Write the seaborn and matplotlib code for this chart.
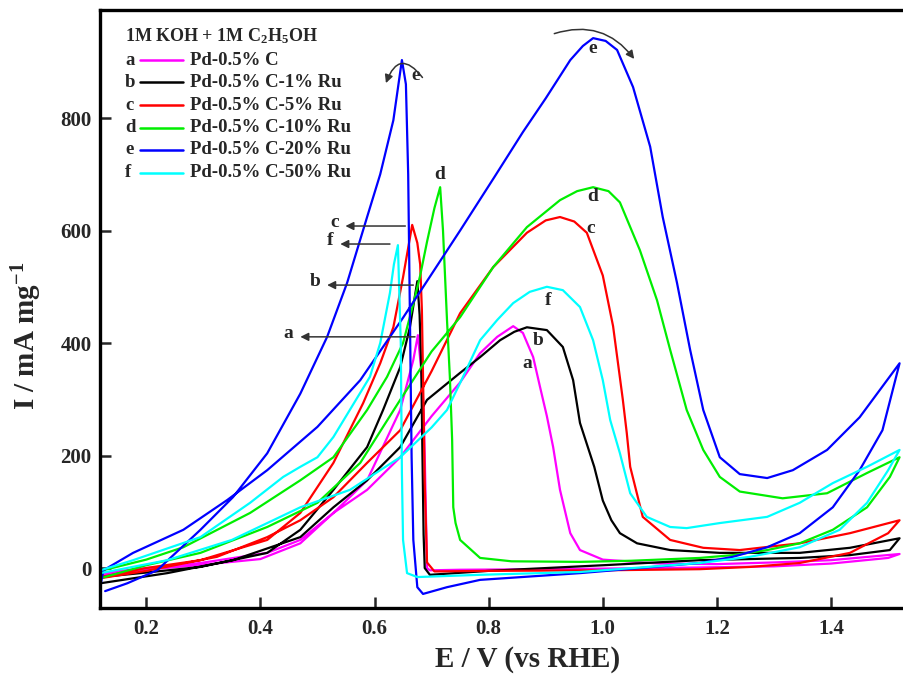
import numpy as np
import pandas as pd
import matplotlib
matplotlib.use("Agg")
import matplotlib.pyplot as plt
import seaborn as sns
from matplotlib.lines import Line2D

# ---------------- data (E / V vs RHE, I / mA mg^-1), one CV loop per catalyst ----------------
a_E = [0.12, 0.2, 0.3, 0.4, 0.47, 0.528, 0.587, 0.645, 0.7, 0.75, 0.785, 0.815, 0.843, 0.86, 0.878,
       0.89, 0.902, 0.913, 0.925, 0.943, 0.96, 1.0, 1.1, 1.2, 1.3, 1.4, 1.52,
       1.5, 1.4, 1.3, 1.1, 0.9, 0.75, 0.697, 0.692, 0.69, 0.688, 0.686, 0.683, 0.676, 0.668, 0.645,
       0.587, 0.528, 0.47, 0.412, 0.295, 0.2, 0.12]
a_I = [-12, -3, 6, 16, 44, 98, 139, 197, 270, 330, 382, 411, 430, 418, 375,
       322, 270, 215, 139, 62, 32, 15, 8, 7, 10, 14, 25,
       18, 8, 3, 0, -2, -3, -4, 0, 100, 200, 281, 340, 414, 370, 281,
       156, 98, 50, 27, 9, 0, -9]

b_E = [0.12, 0.237, 0.352, 0.47, 0.528, 0.587, 0.645, 0.692, 0.75, 0.785, 0.82, 0.845, 0.867, 0.902,
       0.93, 0.948, 0.96, 0.985, 1.0, 1.015, 1.03, 1.06, 1.118, 1.205, 1.345, 1.433, 1.52,
       1.503, 1.433, 1.345, 1.17, 1.0, 0.8, 0.697, 0.688, 0.686, 0.684, 0.682, 0.679, 0.675, 0.662,
       0.645, 0.615, 0.587, 0.528, 0.47, 0.412, 0.295, 0.2, 0.12]
b_I = [-27, -9, 14, 55, 108, 156, 215, 299, 347, 375, 405, 420, 428, 423,
       393, 334, 258, 180, 120, 85, 62, 44, 32, 27, 27, 36, 53,
       32, 23, 18, 14, 5, -5, -12, 0, 60, 200, 350, 450, 510, 428,
       357, 281, 215, 139, 68, 27, 2, -8, -16]

c_E = [0.12, 0.2, 0.324, 0.412, 0.47, 0.528, 0.587, 0.645, 0.7, 0.75, 0.808, 0.867, 0.9, 0.925,
       0.95, 0.972, 1.0, 1.018, 1.035, 1.042, 1.048, 1.07, 1.118, 1.176, 1.24, 1.345, 1.433, 1.52,
       1.5, 1.433, 1.345, 1.258, 1.17, 1.0, 0.8, 0.705, 0.692, 0.688, 0.686, 0.683, 0.68, 0.675,
       0.666, 0.65, 0.633, 0.61, 0.58, 0.528, 0.47, 0.412, 0.295, 0.2, 0.12]
c_I = [-18, -5, 20, 55, 85, 126, 187, 245, 350, 453, 535, 596, 618, 624,
       616, 596, 520, 430, 300, 240, 180, 91, 50, 36, 32, 44, 62, 85,
       62, 27, 9, 2, -2, -4, -5, -6, 10, 150, 281, 459, 540, 578,
       610, 517, 428, 364, 293, 187, 98, 50, 14, 0, -16]

d_E = [0.12, 0.2, 0.295, 0.412, 0.5, 0.575, 0.645, 0.7, 0.75, 0.808, 0.867, 0.925, 0.955, 0.983,
       1.01, 1.03, 1.065, 1.095, 1.118, 1.147, 1.176, 1.205, 1.24, 1.315, 1.393, 1.463, 1.52,
       1.503, 1.463, 1.403, 1.345, 1.288, 1.228, 1.17, 1.05, 0.96, 0.84, 0.785, 0.75, 0.742, 0.738,
       0.736, 0.732, 0.727, 0.72, 0.715, 0.705, 0.692, 0.68, 0.668, 0.65, 0.622, 0.587, 0.528,
       0.47, 0.382, 0.265, 0.2, 0.12]
d_I = [-18, 5, 27, 73, 116, 187, 299, 385, 446, 535, 606, 654, 670, 677,
       670, 650, 565, 476, 388, 281, 210, 162, 136, 124, 133, 169, 197,
       162, 108, 68, 44, 32, 23, 18, 13, 11, 12, 18, 50, 80, 108,
       228, 340, 441, 600, 677, 640, 580, 520, 470, 400, 340, 281, 197,
       156, 98, 37, 15, -5]

e_E = [0.12, 0.125, 0.177, 0.265, 0.342, 0.412, 0.5, 0.575, 0.65, 0.75, 0.81, 0.86, 0.9, 0.943,
       0.965, 0.983, 1.005, 1.025, 1.053, 1.083, 1.105, 1.13, 1.153, 1.176, 1.205, 1.24, 1.288,
       1.333, 1.393, 1.45, 1.52,
       1.49, 1.45, 1.403, 1.345, 1.288, 1.228, 1.17, 0.96, 0.785, 0.727, 0.685, 0.675, 0.668,
       0.665, 0.662, 0.659, 0.655, 0.648, 0.633, 0.61, 0.587, 0.552, 0.517, 0.47, 0.412, 0.352,
       0.295, 0.219, 0.167, 0.128]
e_I = [-30, -4, 27, 68, 121, 174, 251, 334, 445, 600, 695, 775, 835, 903,
       928, 942, 937, 921, 855, 749, 624, 507, 388, 281, 197, 167, 160,
       174, 210, 268, 364,
       245, 174, 108, 62, 37, 20, 9, -9, -21, -34, -46, -34, 50,
       197, 450, 700, 860, 903, 796, 700, 624, 507, 411, 310, 204, 126,
       68, -4, -27, -41]

f_E = [0.12, 0.237, 0.35, 0.47, 0.557, 0.645, 0.7, 0.727, 0.75, 0.785, 0.815, 0.843, 0.872, 0.902,
       0.93, 0.96, 0.983, 1.0, 1.013, 1.03, 1.048, 1.077, 1.118, 1.147, 1.205, 1.288, 1.345,
       1.403, 1.463, 1.52,
       1.5, 1.463, 1.415, 1.345, 1.258, 1.17, 0.96, 0.785, 0.675, 0.657, 0.65, 0.648, 0.646,
       0.641, 0.634, 0.627, 0.61, 0.592, 0.528, 0.5, 0.47, 0.44, 0.382, 0.295, 0.177, 0.12]
f_I = [-9, 14, 50, 108, 139, 197, 250, 281, 329, 405, 441, 471, 491, 500,
       494, 464, 405, 334, 263, 204, 133, 91, 73, 71, 80, 91, 116,
       151, 180, 210,
       174, 116, 68, 37, 20, 9, -7, -12, -16, -9, 50, 169, 400,
       574, 540, 489, 400, 340, 233, 197, 180, 162, 116, 55, 14, -4]

curve_keys = ["a", "b", "c", "d", "e", "f"]
curve_E = [a_E, b_E, c_E, d_E, e_E, f_E]
curve_I = [a_I, b_I, c_I, d_I, e_I, f_I]
legend_labels = ["Pd-0.5% C", "Pd-0.5% C-1% Ru", "Pd-0.5% C-5% Ru",
                 "Pd-0.5% C-10% Ru", "Pd-0.5% C-20% Ru", "Pd-0.5% C-50% Ru"]
colors = ["#FF00FF", "#000000", "#FF0000", "#00EE00", "#0000FF", "#00FFFF"]

x_ticks = [0.2, 0.4, 0.6, 0.8, 1.0, 1.2, 1.4]
y_ticks = [0, 200, 400, 600, 800]

# ---------------- build table ----------------
rows = []
for k, E, I in zip(curve_keys, curve_E, curve_I):
    for i, (e, c) in enumerate(zip(E, I)):
        rows.append({"curve": k, "E": e, "I": c, "order": i})
df = pd.DataFrame(rows)

sns.set_style("ticks")
plt.rcParams["font.family"] = ["Liberation Serif", "DejaVu Serif"]
plt.rcParams["font.weight"] = "bold"
plt.rcParams["mathtext.fontset"] = "custom"
plt.rcParams["mathtext.rm"] = "Liberation Serif:bold"
plt.rcParams["mathtext.it"] = "Liberation Serif:bold"
plt.rcParams["mathtext.bf"] = "Liberation Serif:bold"
plt.rcParams["mathtext.default"] = "rm"

fig = plt.figure(figsize=(9.04, 6.79), dpi=100)
ax = fig.add_axes([100 / 904, 71 / 679, 803 / 904, 598 / 679])

sns.lineplot(data=df, x="E", y="I", hue="curve", hue_order=curve_keys,
             palette=dict(zip(curve_keys, colors)), sort=False, estimator=None,
             units="curve", linewidth=1.6, legend=False, ax=ax)

ax.set_xlim(0.119, 1.526)
ax.set_ylim(-71, 992)
ax.set_xticks(x_ticks)
ax.set_xticklabels([f"{v:.1f}" for v in x_ticks])
ax.set_yticks(y_ticks)
ax.set_yticklabels([str(v) for v in y_ticks])
ax.tick_params(direction="in", length=8, width=1.8, labelsize=15, pad=6)
ax.tick_params(axis="x", pad=8)
for lab in ax.get_xticklabels() + ax.get_yticklabels():
    lab.set_fontweight("bold")
for side in ["left", "bottom", "top"]:
    ax.spines[side].set_linewidth(2.4)
    ax.spines[side].set_color("black")
ax.spines["right"].set_visible(False)

ax.set_xlabel("E / V (vs RHE)", fontsize=21, fontweight="bold")
ax.set_ylabel("I / mA mg$^{-1}$", fontsize=21, fontweight="bold")
ax.xaxis.set_label_coords(0.532, -0.063)
ax.yaxis.set_label_coords(-0.07, 0.455)

# ---------------- legend (manual, with letters) ----------------
ax.text(0.031, 0.957, "1M KOH + 1M C$_2$H$_5$OH", transform=ax.transAxes,
        fontsize=13, fontweight="bold", va="center", ha="left")
leg_y = [0.916, 0.879, 0.841, 0.803, 0.766, 0.728]
for k, lab, col, yy in zip(curve_keys, legend_labels, colors, leg_y):
    ax.text(0.031, yy, k, transform=ax.transAxes, fontsize=13.5, fontweight="bold",
            va="center", ha="left")
    ax.add_line(Line2D([0.05, 0.103], [yy, yy], transform=ax.transAxes,
                       color=col, linewidth=1.8))
    ax.text(0.112, yy, lab, transform=ax.transAxes, fontsize=13.5, fontweight="bold",
            va="center", ha="left")

# ---------------- curve labels ----------------
label_pos = [("a", 0.867, 364), ("b", 0.887, 405), ("f", 0.904, 475), ("c", 0.978, 603),
             ("d", 0.983, 660), ("e", 0.983, 923), ("d", 0.715, 700), ("e", 0.672, 875)]
for t, xx, yy in label_pos:
    ax.text(xx, yy, t, fontsize=14, fontweight="bold", ha="center", va="center")

# straight arrows pointing to backward peaks
arrows = [("c", 0.654, 0.549, 608), ("f", 0.627, 0.54, 576),
          ("b", 0.668, 0.517, 503), ("a", 0.671, 0.47, 411)]
for t, x0, x1, yy in arrows:
    ax.annotate("", xy=(x1, yy), xytext=(x0, yy),
                arrowprops=dict(arrowstyle="-|>", color="#333333", lw=1.1,
                                mutation_scale=12, shrinkA=0, shrinkB=0))
    ax.text(x1 - 0.012, yy + 6, t, fontsize=14, fontweight="bold", ha="right", va="center")

# curved arrows showing scan direction
ax.annotate("", xy=(0.62, 862), xytext=(0.684, 872),
            arrowprops=dict(arrowstyle="-|>", color="#333333", lw=1.1, mutation_scale=12,
                            connectionstyle="arc3,rad=0.9", shrinkA=0, shrinkB=0))
ax.annotate("", xy=(1.055, 905), xytext=(0.915, 950),
            arrowprops=dict(arrowstyle="-|>", color="#333333", lw=1.1, mutation_scale=12,
                            connectionstyle="arc3,rad=-0.35", shrinkA=0, shrinkB=0))

fig.savefig("out.png", dpi=100)
